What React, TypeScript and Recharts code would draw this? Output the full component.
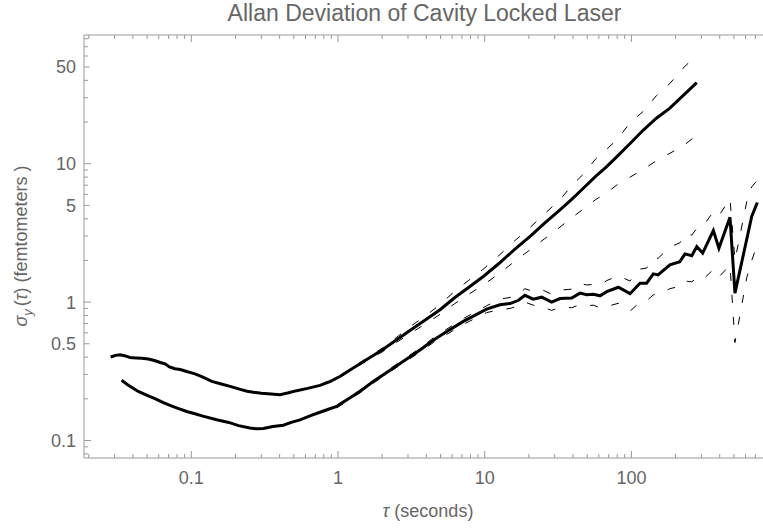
import { LineChart, Line, XAxis, YAxis } from 'recharts'

// tau (s) and Allan deviation (fm)
const TAU_A = [0.0282, 0.0305, 0.0327, 0.035, 0.0382, 0.042, 0.046, 0.0509, 0.056, 0.0615, 0.0662, 0.071, 0.0774, 0.084, 0.0931, 0.106, 0.12, 0.138, 0.16, 0.184, 0.21, 0.24, 0.265, 0.3, 0.35, 0.403, 0.46, 0.523, 0.62, 0.754, 0.88, 1.03, 1.27, 1.6, 2.0, 2.51, 3.2, 4.0, 4.96, 6.2, 7.8, 9.78, 12.5, 16, 20.4, 25.5, 32.6, 39, 47, 57, 67, 79.4, 98, 120.6, 148, 183, 225, 279]
const SIGMA_A = [0.401, 0.412, 0.416, 0.41, 0.398, 0.395, 0.392, 0.388, 0.378, 0.366, 0.358, 0.34, 0.33, 0.326, 0.315, 0.303, 0.287, 0.267, 0.256, 0.246, 0.236, 0.227, 0.223, 0.219, 0.217, 0.214, 0.221, 0.229, 0.238, 0.25, 0.266, 0.29, 0.334, 0.39, 0.45, 0.535, 0.64, 0.75, 0.88, 1.07, 1.28, 1.53, 1.9, 2.4, 2.98, 3.7, 4.64, 5.5, 6.65, 8.1, 9.4, 11.2, 14.0, 17.5, 21.3, 25.2, 31, 38.5]

const TAU_A_BAND = [0.754, 1.03, 1.27, 1.6, 2.0, 2.51, 3.2, 4.0, 4.96, 6.2, 7.8, 9.78, 12.5, 16, 20.4, 25.5, 32.6, 39, 47, 57, 67, 79.4, 98, 120.6, 148, 183, 225, 279]
const SIGMA_A_HI = [0.252, 0.294, 0.34, 0.398, 0.464, 0.557, 0.68, 0.803, 0.96, 1.19, 1.44, 1.73, 2.17, 2.77, 3.46, 4.33, 5.5, 6.9, 8.4, 10.8, 12.6, 14.8, 19.8, 23.9, 31, 38, 49, 61]
const SIGMA_A_LO = [0.248, 0.286, 0.328, 0.381, 0.436, 0.512, 0.605, 0.703, 0.815, 0.97, 1.14, 1.33, 1.6, 1.97, 2.39, 2.86, 3.48, 4.05, 4.7, 5.5, 6.1, 7.0, 8.0, 9.1, 10.5, 11.9, 13.4, 16.1]

const TAU_B = [0.0335, 0.037, 0.0435, 0.05, 0.057, 0.0645, 0.073, 0.082, 0.0931, 0.106, 0.12, 0.149, 0.18, 0.21, 0.251, 0.28, 0.31, 0.36, 0.424, 0.48, 0.551, 0.65, 0.754, 0.86, 0.98, 1.15, 1.41, 1.7, 2.04, 2.65, 3.62, 4.46, 5.22, 7.15, 10.3, 12.7, 14.9, 17, 18.8, 21.4, 24.5, 28.6, 32.6, 39.2, 44.6, 49.6, 55, 61.1, 67.9, 81.5, 97.8, 114.5, 127, 141, 152, 183, 214, 232, 258, 279, 306, 362, 395, 470, 508, 661, 722]
const SIGMA_B = [0.272, 0.252, 0.226, 0.212, 0.2, 0.188, 0.178, 0.17, 0.162, 0.156, 0.15, 0.141, 0.135, 0.128, 0.123, 0.1215, 0.122, 0.126, 0.129, 0.135, 0.141, 0.151, 0.16, 0.168, 0.176, 0.197, 0.226, 0.262, 0.299, 0.36, 0.45, 0.53, 0.59, 0.725, 0.89, 0.956, 0.975, 1.03, 1.12, 1.05, 1.085, 1.0, 1.06, 1.07, 1.16, 1.13, 1.14, 1.11, 1.19, 1.28, 1.15, 1.37, 1.37, 1.6, 1.57, 1.86, 1.96, 2.23, 2.16, 2.52, 2.26, 3.29, 2.45, 4.1, 1.16, 4.15, 5.24]

const TAU_B_BAND = [0.98, 1.41, 2.04, 2.65, 3.62, 4.46, 5.22, 7.15, 10.3, 12.7, 14.9, 17, 18.8, 21.4, 24.5, 28.6, 32.6, 39.2, 44.6, 49.6, 55, 61.1, 67.9, 81.5, 97.8, 114.5, 127, 141, 152, 183, 214, 232, 258, 279, 306, 362, 395, 470, 508, 611, 661, 722]
const SIGMA_B_HI = [0.18, 0.231, 0.306, 0.37, 0.465, 0.55, 0.615, 0.76, 0.94, 1.05, 1.08, 1.14, 1.25, 1.19, 1.23, 1.14, 1.22, 1.24, 1.36, 1.33, 1.34, 1.32, 1.43, 1.55, 1.42, 1.73, 1.76, 2.08, 2.07, 2.5, 2.68, 3.1, 3.05, 3.4, 3.5, 4.5, 4.2, 5.6, 2.0, 5.3, 6.8, 7.6]
const SIGMA_B_LO = [0.172, 0.221, 0.292, 0.35, 0.435, 0.51, 0.565, 0.69, 0.84, 0.88, 0.9, 0.94, 1.0, 0.95, 0.93, 0.87, 0.92, 0.91, 0.96, 0.94, 0.95, 0.91, 0.93, 0.98, 0.86, 1.0, 1.02, 1.13, 1.13, 1.25, 1.3, 1.42, 1.4, 1.5, 1.45, 1.72, 1.52, 1.85, 0.51, 1.5, 2.0, 2.6]

// axis ticks
const X_LABELS = [0.1, 1, 10, 100]
const X_TICKS = [0.02, 0.03, 0.04, 0.05, 0.06, 0.07, 0.08, 0.09, 0.1, 0.2, 0.3, 0.4, 0.5, 0.6, 0.7, 0.8, 0.9, 1, 2, 3, 4, 5, 6, 7, 8, 9, 10, 20, 30, 40, 50, 60, 70, 80, 90, 100, 200, 300, 400, 500, 600, 700]
const Y_LABELS = [0.1, 0.5, 1, 5, 10, 50]
const Y_TICKS = [0.08, 0.09, 0.1, 0.2, 0.3, 0.4, 0.5, 0.6, 0.7, 0.8, 0.9, 1, 2, 3, 4, 5, 6, 7, 8, 9, 10, 20, 30, 40, 50, 60, 70, 80]
const X_DOMAIN: [number, number] = [0.01856, 789]
const Y_DOMAIN: [number, number] = [0.0747, 85.1]

const AXIS = '#999999'
const TEXT = '#666666'
const FONT = '"Liberation Sans", Arial, sans-serif'

const zip = (ts: number[], vs: number[]) => ts.map((t, i) => ({ t, v: vs[i] }))

const seriesA = zip(TAU_A, SIGMA_A)
const seriesAHi = zip(TAU_A_BAND, SIGMA_A_HI)
const seriesALo = zip(TAU_A_BAND, SIGMA_A_LO)
const seriesB = zip(TAU_B, SIGMA_B)
const seriesBHi = zip(TAU_B_BAND, SIGMA_B_HI)
const seriesBLo = zip(TAU_B_BAND, SIGMA_B_LO)

function BottomTick(props: any) {
  const { x, y, payload } = props
  const major = X_LABELS.includes(payload.value)
  return (
    <g>
      <line x1={x} x2={x} y1={y} y2={y - (major ? 7 : 4)} stroke={AXIS} />
      {major && (
        <text x={x} y={y + 26} textAnchor="middle" fill={TEXT} fontSize={18} fontFamily={FONT}>
          {String(payload.value)}
        </text>
      )}
    </g>
  )
}

function TopTick(props: any) {
  const { x, y, payload } = props
  const major = X_LABELS.includes(payload.value)
  return <line x1={x} x2={x} y1={y} y2={y + (major ? 7 : 4)} stroke={AXIS} />
}

function LeftTick(props: any) {
  const { x, y, payload } = props
  const v = payload.value
  const major = Y_LABELS.includes(v)
  const len = v === 0.1 || v === 1 || v === 10 ? 7 : major ? 5.5 : 4
  return (
    <g>
      <line x1={x} x2={x + len} y1={y} y2={y} stroke={AXIS} />
      {major && (
        <text x={x - 8} y={y + 6.5} textAnchor="end" fill={TEXT} fontSize={18} fontFamily={FONT}>
          {String(v)}
        </text>
      )}
    </g>
  )
}

export default function App() {
  const dashed = { stroke: '#000', strokeWidth: 1, strokeDasharray: '8 14', dot: false, isAnimationActive: false, type: 'linear' as const, xAxisId: 'b', dataKey: 'v' }
  const solid = { stroke: '#000', strokeWidth: 3, dot: false, isAnimationActive: false, type: 'linear' as const, xAxisId: 'b', dataKey: 'v' }
  return (
    <div style={{ position: 'absolute', left: 0, top: 0, width: 763, height: 529, background: '#fff' }}>
      <LineChart width={763} height={529} margin={{ top: 0, right: 0, bottom: 0, left: 0 }}>
        <XAxis
          xAxisId="b"
          dataKey="t"
          type="number"
          scale="log"
          domain={X_DOMAIN}
          allowDataOverflow
          ticks={X_TICKS}
          interval={0}
          height={71}
          tickSize={0}
          tickMargin={0}
          tickLine={false}
          axisLine={{ stroke: AXIS }}
          tick={<BottomTick />}
        />
        <XAxis
          xAxisId="t"
          orientation="top"
          dataKey="t"
          type="number"
          scale="log"
          domain={X_DOMAIN}
          allowDataOverflow
          ticks={X_TICKS}
          interval={0}
          height={35}
          tickSize={0}
          tickMargin={0}
          tickLine={false}
          axisLine={{ stroke: AXIS }}
          tick={<TopTick />}
        />
        <YAxis
          type="number"
          scale="log"
          domain={Y_DOMAIN}
          allowDataOverflow
          ticks={Y_TICKS}
          interval={0}
          width={84}
          tickSize={0}
          tickMargin={0}
          tickLine={false}
          axisLine={{ stroke: AXIS }}
          tick={<LeftTick />}
        />
        <Line {...dashed} data={seriesAHi} />
        <Line {...dashed} data={seriesALo} />
        <Line {...dashed} data={seriesBHi} />
        <Line {...dashed} data={seriesBLo} />
        <Line {...solid} data={seriesA} />
        <Line {...solid} data={seriesB} />
      </LineChart>
      <svg width={763} height={529} style={{ position: 'absolute', left: 0, top: 0, pointerEvents: 'none' }}>
        <text x={424.5} y={21} textAnchor="middle" fill={TEXT} fontSize={23} fontFamily={FONT}>
          Allan Deviation of Cavity Locked Laser
        </text>
        <text x={428} y={517} textAnchor="middle" fill={TEXT} fontSize={18} fontFamily={FONT}>
          <tspan fontStyle="italic">τ</tspan> (seconds)
        </text>
        <text x={-246} y={27} transform="rotate(-90)" fill={TEXT} fontSize={18} fontFamily={FONT} textAnchor="middle">
          <tspan fontStyle="italic">σ</tspan>
          <tspan fontStyle="italic" fontSize={13} dy={5}>y</tspan>
          <tspan dy={-5} dx={3}>(</tspan>
          <tspan fontStyle="italic">τ</tspan>
          <tspan>) (femtometers )</tspan>
        </text>
      </svg>
    </div>
  )
}
